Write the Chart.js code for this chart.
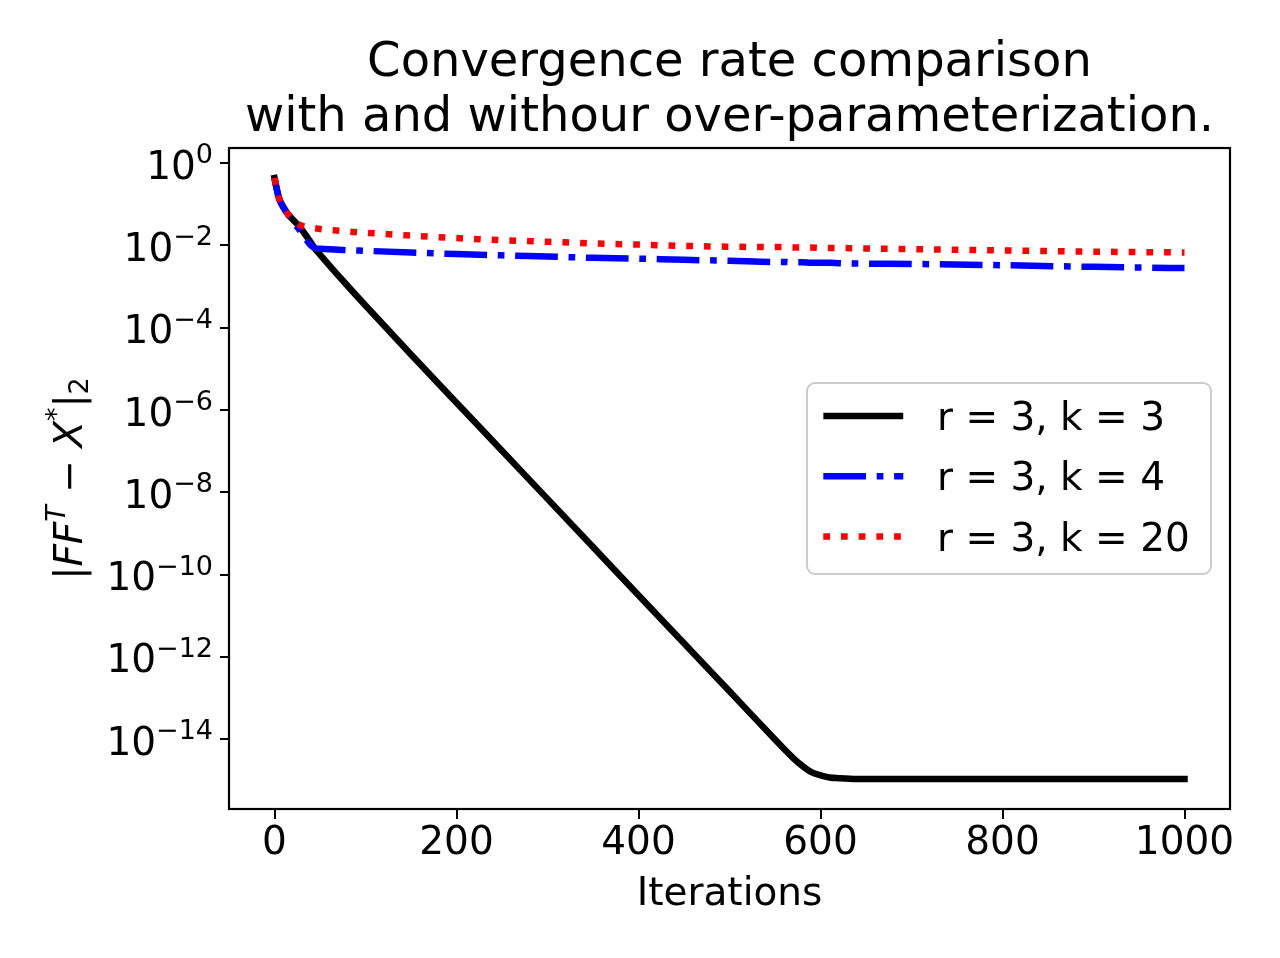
<!DOCTYPE html>
<html>
<head>
<meta charset="utf-8">
<script src="https://cdn.jsdelivr.net/npm/chart.js@4.4.1/dist/chart.umd.min.js"></script>
<style>
  body { margin: 0; background: #fff; }
  canvas { display: block; }
</style>
</head>
<body>
<canvas id="myChart" width="1280" height="958"></canvas>
<script>
// iteration numbers the curves were read at
const iterations = [0, 2, 5, 10, 15, 20, 25, 30, 35, 40, 45, 50, 75, 100, 150, 200, 250, 300, 350, 400,
  450, 500, 550, 560, 570, 580, 590, 600, 610, 620, 640, 700, 800, 900, 1000];

// r = 3, k = 3
const errK3 = [4.37e-1, 2.63e-1, 1.41e-1, 8.32e-2, 5.75e-2, 4.27e-2, 3.31e-2, 2.40e-2, 1.70e-2, 1.17e-2,
  8.13e-3, 6.03e-3, 1.41e-3, 3.47e-4, 2.24e-5, 1.51e-6, 1.02e-7, 6.92e-9, 4.68e-10, 3.16e-11,
  2.14e-12, 1.45e-13, 9.77e-15, 5.75e-15, 3.47e-15, 2.24e-15, 1.58e-15, 1.32e-15, 1.17e-15, 1.12e-15,
  1.07e-15, 1.07e-15, 1.07e-15, 1.07e-15, 1.07e-15];

// r = 3, k = 4
const errK4 = [4.37e-1, 2.63e-1, 1.38e-1, 8.32e-2, 5.62e-2, 3.98e-2, 2.82e-2, 2.00e-2, 1.38e-2, 1.00e-2,
  8.51e-3, 8.32e-3, 7.76e-3, 7.41e-3, 6.76e-3, 6.17e-3, 5.75e-3, 5.37e-3, 5.01e-3, 4.79e-3,
  4.47e-3, 4.27e-3, 3.98e-3, 3.98e-3, 3.89e-3, 3.89e-3, 3.80e-3, 3.80e-3, 3.80e-3, 3.72e-3,
  3.63e-3, 3.55e-3, 3.31e-3, 3.02e-3, 2.82e-3];

// r = 3, k = 20
const errK20 = [4.37e-1, 2.63e-1, 1.41e-1, 8.32e-2, 5.75e-2, 4.37e-2, 3.47e-2, 3.02e-2, 2.82e-2, 2.69e-2,
  2.63e-2, 2.51e-2, 2.24e-2, 2.04e-2, 1.74e-2, 1.51e-2, 1.35e-2, 1.23e-2, 1.12e-2, 1.05e-2,
  9.77e-3, 9.33e-3, 9.12e-3, 9.12e-3, 8.91e-3, 8.91e-3, 8.91e-3, 8.71e-3, 8.71e-3, 8.71e-3,
  8.51e-3, 8.13e-3, 7.59e-3, 7.08e-3, 6.76e-3];

const seriesLabels = ['r = 3, k = 3', 'r = 3, k = 4', 'r = 3, k = 20'];
const xTicks = [0, 200, 400, 600, 800, 1000];
const yTicks = [1e-14, 1e-12, 1e-10, 1e-8, 1e-6, 1e-4, 1e-2, 1];

const FONT = "'DejaVu Sans', sans-serif";

const toPoints = vals => vals.map((v, i) => ({x: iterations[i], y: v}));

// frame, y tick labels, y axis label and legend
const extras = {
  id: 'extras',
  afterLayout(chart) {
    // matplotlib centres the title over the axes, not the figure
    const t = chart.titleBlock;
    if (t) {
      t.left = chart.chartArea.left;
      t.right = chart.chartArea.right;
    }
  },
  afterDraw(chart) {
    const ctx = chart.ctx;
    const a = chart.chartArea;
    const y = chart.scales.y;
    ctx.save();

    ctx.strokeStyle = '#000';
    ctx.lineWidth = 2.2;
    ctx.setLineDash([]);
    ctx.strokeRect(a.left, a.top, a.right - a.left, a.bottom - a.top);

    // 10^n labels
    ctx.fillStyle = '#000';
    ctx.textBaseline = 'alphabetic';
    ctx.textAlign = 'left';
    yTicks.forEach(v => {
      const py = y.getPixelForValue(v);
      const exp = String(Math.round(Math.log10(v))).replace('-', '\u2212');
      ctx.font = '27px ' + FONT;
      const we = ctx.measureText(exp).width;
      ctx.font = '39px ' + FONT;
      const wm = ctx.measureText('10').width;
      const right = 213;
      ctx.fillText('10', right - we - wm, py + 15.5);
      ctx.font = '27px ' + FONT;
      ctx.fillText(exp, right - we, py);
    });

    // |FF^T - X^*|_2
    const parts = [
      {t: '|', f: '39px ' + FONT, dy: 0},
      {t: 'FF', f: 'oblique 39px ' + FONT, dy: 0},
      {t: 'T', f: 'oblique 27px ' + FONT, dy: -17},
      {t: ' \u2212 ', f: '39px ' + FONT, dy: 0},
      {t: 'X', f: 'oblique 39px ' + FONT, dy: 0},
      {t: '*', f: '27px ' + FONT, dy: -17},
      {t: '|', f: '39px ' + FONT, dy: 0},
      {t: '2', f: '27px ' + FONT, dy: 6}
    ];
    let total = 0;
    parts.forEach(p => { ctx.font = p.f; p.w = ctx.measureText(p.t).width; total += p.w; });
    ctx.translate(82, (a.top + a.bottom) / 2);
    ctx.rotate(-Math.PI / 2);
    let cx = -total / 2;
    parts.forEach(p => {
      ctx.font = p.f;
      ctx.fillText(p.t, cx, p.dy);
      cx += p.w;
    });
    ctx.setTransform(1, 0, 0, 1, 0, 0);

    // legend
    ctx.beginPath();
    ctx.roundRect(807, 383, 404, 191, 8);
    ctx.fillStyle = 'rgba(255,255,255,0.8)';
    ctx.fill();
    ctx.strokeStyle = '#cccccc';
    ctx.lineWidth = 2;
    ctx.stroke();
    chart.data.datasets.forEach((ds, i) => {
      const ry = 416 + i * 60.3;
      ctx.beginPath();
      ctx.strokeStyle = ds.borderColor;
      ctx.lineWidth = ds.borderWidth;
      ctx.lineCap = ds.borderCapStyle || 'butt';
      ctx.setLineDash(ds.borderDash || []);
      const x0 = ds.borderCapStyle === 'square' ? 823.3 + 3.3 : 823.3;
      const x1 = ds.borderCapStyle === 'square' ? 903.3 - 3.3 : 903.3;
      ctx.moveTo(x0, ry);
      ctx.lineTo(x1, ry);
      ctx.stroke();
      ctx.setLineDash([]);
      ctx.fillStyle = '#000';
      ctx.font = '39px ' + FONT;
      ctx.fillText(ds.label, 937, ry + 14);
    });
    ctx.restore();
  }
};

const ctx = document.getElementById('myChart').getContext('2d');
const myChart = new Chart(ctx, {
  type: 'line',
  data: {
    datasets: [
      {
        label: seriesLabels[0],
        data: toPoints(errK3),
        borderColor: '#000000',
        borderWidth: 6.5,
        borderCapStyle: 'square',
        borderJoinStyle: 'round',
        order: 3
      },
      {
        label: seriesLabels[1],
        data: toPoints(errK4),
        borderColor: '#0000ff',
        borderWidth: 6.5,
        borderDash: [42.7, 10.7, 6.7, 10.7],
        borderCapStyle: 'butt',
        order: 2
      },
      {
        label: seriesLabels[2],
        data: toPoints(errK20),
        borderColor: '#ff0000',
        borderWidth: 6.5,
        borderDash: [6.7, 11],
        borderCapStyle: 'butt',
        order: 1
      }
    ]
  },
  options: {
    responsive: false,
    devicePixelRatio: 1,
    animation: false,
    layout: {padding: {left: 0, right: 50, top: 0, bottom: 0}},
    elements: {
      point: {radius: 0},
      line: {fill: false, cubicInterpolationMode: 'monotone'}
    },
    plugins: {
      legend: {display: false},
      tooltip: {enabled: false},
      title: {
        display: true,
        text: ['Convergence rate comparison', 'with and withour over-parameterization.'],
        color: '#000',
        font: {family: FONT, size: 48, weight: 'normal', lineHeight: 1.146},
        padding: {top: 35.9, bottom: 2.1}
      }
    },
    scales: {
      x: {
        type: 'linear',
        min: -50,
        max: 1050,
        afterBuildTicks: s => { s.ticks = xTicks.map(v => ({value: v})); },
        afterFit: s => { s.height = 149; },
        grid: {drawOnChartArea: false, drawTicks: true, tickLength: 10, color: '#000', lineWidth: 2},
        border: {display: false},
        ticks: {
          color: '#000',
          font: {family: FONT, size: 39},
          padding: 1,
          maxRotation: 0,
          autoSkip: false,
          callback: v => String(v)
        },
        title: {
          display: true,
          text: 'Iterations',
          color: '#000',
          font: {family: FONT, size: 39, lineHeight: 1.2},
          padding: {top: 0, bottom: 40}
        }
      },
      y: {
        type: 'logarithmic',
        min: 2e-16,
        max: 2.34,
        afterBuildTicks: s => { s.ticks = yTicks.map(v => ({value: v})); },
        afterFit: s => { s.width = 229; },
        grid: {drawOnChartArea: false, drawTicks: true, tickLength: 9, color: '#000', lineWidth: 2},
        border: {display: false},
        ticks: {display: false}
      }
    }
  },
  plugins: [extras]
});
</script>
</body>
</html>
